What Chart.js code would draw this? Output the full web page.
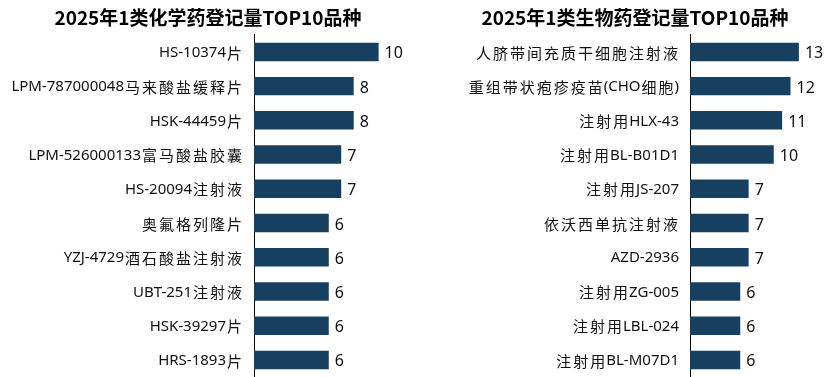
<!DOCTYPE html>
<html>
<head>
<meta charset="utf-8">
<script src="https://cdn.jsdelivr.net/npm/chart.js@4.4.1/dist/chart.umd.min.js"></script>
<style>
  html, body { margin: 0; padding: 0; background: #fff; }
  .wrap { width: 833px; height: 377px; position: relative; overflow: hidden; }
  canvas { position: absolute; top: 0; }
  #chemChart { left: 0; }
  #bioChart { left: 416px; }
</style>
</head>
<body>
<div class="wrap">
  <canvas id="chemChart" width="416" height="377"></canvas>
  <canvas id="bioChart" width="417" height="377"></canvas>
</div>
<script>
// chemical drugs, 2025 class 1
const chemLabels = ['HS-10374片', 'LPM-787000048马来酸盐缓释片', 'HSK-44459片', 'LPM-526000133富马酸盐胶囊',
  'HS-20094注射液', '奥氟格列隆片', 'YZJ-4729酒石酸盐注射液', 'UBT-251注射液', 'HSK-39297片', 'HRS-1893片'];
const chemValues = [10, 8, 8, 7, 7, 6, 6, 6, 6, 6];

// biological drugs, 2025 class 1
const bioLabels = ['人脐带间充质干细胞注射液', '重组带状疱疹疫苗(CHO细胞)', '注射用HLX-43', '注射用BL-B01D1',
  '注射用JS-207', '依沃西单抗注射液', 'AZD-2936', '注射用ZG-005', '注射用LBL-024', '注射用BL-M07D1'];
const bioValues = [13, 12, 11, 10, 7, 7, 7, 6, 6, 6];

const barColor = '#173f5f';
const latinFont = '15px "Noto Sans", sans-serif';
const cjkFont = '15px "Noto Sans CJK SC", sans-serif';
const cjkRe = /[\u3400-\u9fff]/;

// split a label into runs of CJK / latin text
function splitRuns(text) {
    const runs = [];
    for (const ch of text) {
        const cjk = cjkRe.test(ch);
        if (runs.length && runs[runs.length - 1].cjk === cjk) runs[runs.length - 1].text += ch;
        else runs.push({ cjk: cjk, text: ch });
    }
    return runs;
}

// category labels: CJK characters are spaced out like the original
const categoryLabels = {
    id: 'categoryLabels',
    afterDraw(chart) {
        const ctx = chart.ctx;
        const yScale = chart.scales.y;
        const right = yScale.right - 11;
        ctx.save();
        ctx.fillStyle = '#111';
        ctx.textBaseline = 'middle';
        ctx.textAlign = 'left';
        chart.data.labels.forEach((label, i) => {
            const runs = splitRuns(label);
            let total = 0;
            runs.forEach(r => {
                ctx.font = r.cjk ? cjkFont : latinFont;
                r.w = r.cjk ? r.text.length * 17 : ctx.measureText(r.text).width;
                total += r.w;
            });
            let x = right - total;
            const y = yScale.getPixelForTick(i) + 1;
            runs.forEach(r => {
                ctx.font = r.cjk ? cjkFont : latinFont;
                if (r.cjk) {
                    let cx = x;
                    for (const ch of r.text) { ctx.fillText(ch, cx + 1, y); cx += 17; }
                } else {
                    ctx.fillText(r.text, x, y);
                }
                x += r.w;
            });
        });
        ctx.restore();
    }
};

// draws the number at the end of each bar
const valueLabels = {
    id: 'valueLabels',
    afterDatasetsDraw(chart) {
        const ctx = chart.ctx;
        const meta = chart.getDatasetMeta(0);
        ctx.save();
        ctx.font = '16px "Noto Sans", sans-serif';
        ctx.fillStyle = '#111';
        ctx.textAlign = 'left';
        ctx.textBaseline = 'middle';
        meta.data.forEach((bar, i) => {
            ctx.fillText(chart.data.datasets[0].data[i], bar.x + 6, bar.y + 2);
        });
        ctx.restore();
    }
};

function makeChart(canvasId, title, labels, values, padLeft, axisLeft, xMax, padRight) {
    const ctx = document.getElementById(canvasId).getContext('2d');
    return new Chart(ctx, {
        type: 'bar',
        data: {
            labels: labels,
            datasets: [{
                data: values,
                backgroundColor: barColor,
                barPercentage: 0.9,
                categoryPercentage: 0.6
            }]
        },
        options: {
            indexAxis: 'y',
            responsive: false,
            animation: false,
            layout: { padding: { left: padLeft, right: padRight, top: 0, bottom: 0 } },
            scales: {
                x: { display: false, min: 0, max: xMax },
                y: {
                    grid: { display: false, drawTicks: false },
                    border: { display: true, color: '#000', width: 1 },
                    ticks: { display: false },
                    afterFit(scale) { scale.width = axisLeft - padLeft; }
                }
            },
            plugins: {
                legend: { display: false },
                tooltip: { enabled: false },
                title: {
                    display: true,
                    text: title,
                    color: '#000',
                    font: { size: 19, weight: 'bold', family: '"Noto Sans CJK SC", sans-serif' },
                    padding: { top: 6, bottom: 6 }
                }
            }
        },
        plugins: [valueLabels, categoryLabels]
    });
}

makeChart('chemChart', '2025年1类化学药登记量TOP10品种', chemLabels, chemValues, 0, 254, 13, 0);
makeChart('bioChart', '2025年1类生物药登记量TOP10品种', bioLabels, bioValues, 30, 274, 16, 9);
</script>
</body>
</html>
